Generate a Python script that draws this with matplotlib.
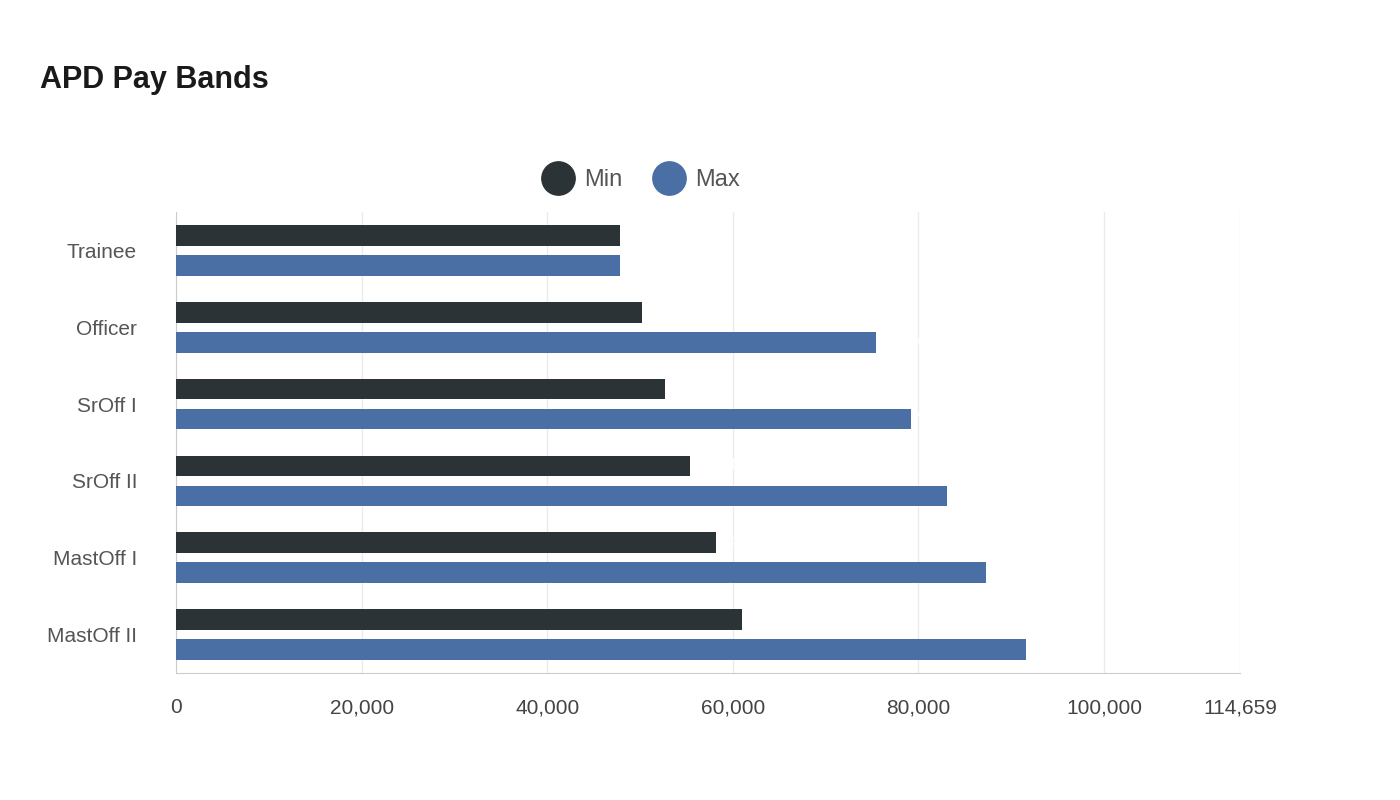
import matplotlib
matplotlib.use("Agg")
import matplotlib.pyplot as plt
from matplotlib.patches import FancyBboxPatch
from matplotlib.lines import Line2D

categories = ["Trainee", "Officer", "SrOff I", "SrOff II", "MastOff I", "MastOff II"]
min_vals = [47800, 50200, 52700, 55400, 58200, 61000]
max_vals = [47800, 75400, 79200, 83100, 87300, 91600]
xticks = [0, 20000, 40000, 60000, 80000, 100000, 114659]
xmax = 114659

plt.rcParams['font.family'] = ['Liberation Sans', 'DejaVu Sans']
fig = plt.figure(figsize=(14, 8), dpi=100)
ax = fig.add_axes([176/1400, 1-673/800, (1240-176)/1400, (673-212)/800])

c_min, c_max = "#2b3336", "#4a6fa5"
h = 0.27
off = 0.195
n = len(categories)
for i, (a, b) in enumerate(zip(min_vals, max_vals)):
    for v, yc, col in [(a, i - off, c_min), (b, i + off, c_max)]:
        ax.barh(yc, v, height=h, color=col, zorder=3)
        ax.text(v, yc, f"{v:,}", color="white", fontsize=12, va="center", ha="left", zorder=4)

ax.set_ylim(n - 0.5, -0.5)
ax.set_xlim(0, xmax)
ax.set_yticks(range(n))
ax.set_yticklabels(categories, fontsize=15, color="#555555")
ax.set_xticks(xticks)
ax.set_xticklabels([f"{t:,}" for t in xticks], fontsize=15, color="#444444")
ax.tick_params(axis='y', length=0, pad=28)
ax.tick_params(axis='x', length=0, pad=18)
ax.grid(axis='x', color="#ebebeb", lw=1, zorder=0)
for s in ["top", "right"]:
    ax.spines[s].set_visible(False)
ax.spines["left"].set_color("#cccccc")
ax.spines["bottom"].set_color("#cccccc")

fig.text(40/1400, 1-80/800, "APD Pay Bands", fontsize=22, fontweight="bold", color="#1a1a1a", va="center")
handles = [Line2D([], [], marker='o', ls='', markersize=24, color=c_min, label="Min"),
           Line2D([], [], marker='o', ls='', markersize=24, color=c_max, label="Max")]
fig.legend(handles=handles, loc="center", bbox_to_anchor=(637/1400, 1-180/800), ncol=2,
           frameon=False, fontsize=17, labelcolor="#555555", handletextpad=0.1, columnspacing=1.0)
fig.savefig("out.png", dpi=100, facecolor="white")
